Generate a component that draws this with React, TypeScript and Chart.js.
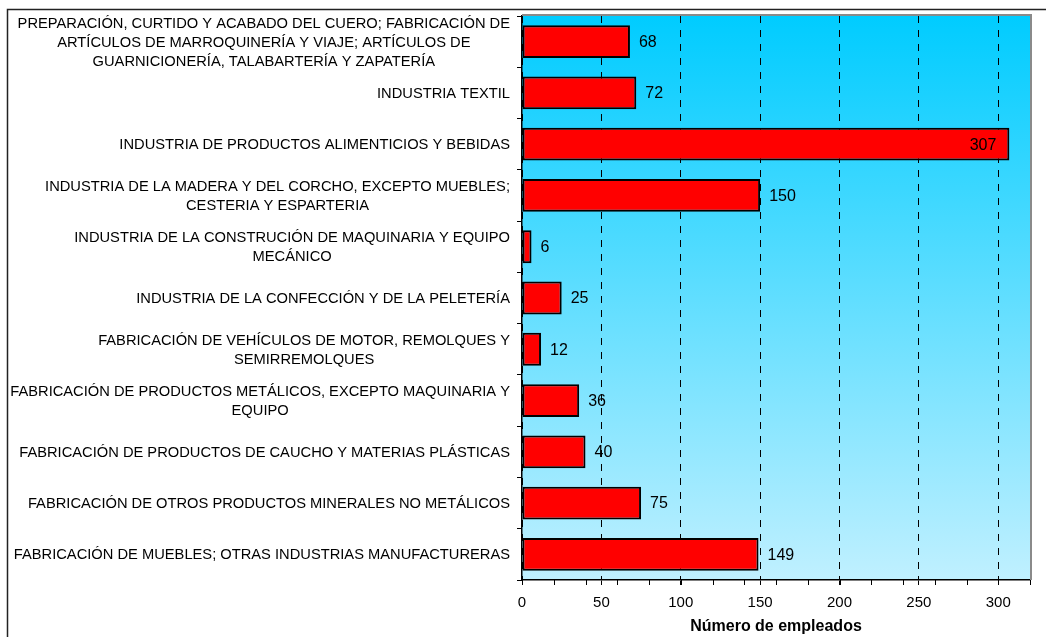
import React, { useEffect, useRef } from "react";
import { Chart, registerables } from "chart.js";

Chart.register(...registerables);

const categories: string[][] = [
  [
    "PREPARACIÓN, CURTIDO Y ACABADO DEL CUERO; FABRICACIÓN DE",
    "ARTÍCULOS DE MARROQUINERÍA Y VIAJE; ARTÍCULOS DE",
    "GUARNICIONERÍA, TALABARTERÍA Y ZAPATERÍA",
  ],
  ["INDUSTRIA TEXTIL"],
  ["INDUSTRIA DE PRODUCTOS ALIMENTICIOS Y BEBIDAS"],
  ["INDUSTRIA DE LA MADERA Y DEL CORCHO, EXCEPTO MUEBLES;", "CESTERIA Y ESPARTERIA"],
  ["INDUSTRIA DE LA CONSTRUCIÓN DE MAQUINARIA Y EQUIPO", "MECÁNICO"],
  ["INDUSTRIA DE LA CONFECCIÓN Y DE LA PELETERÍA"],
  ["FABRICACIÓN DE VEHÍCULOS DE MOTOR, REMOLQUES Y", "SEMIRREMOLQUES"],
  ["FABRICACIÓN DE PRODUCTOS METÁLICOS, EXCEPTO MAQUINARIA Y", "EQUIPO"],
  ["FABRICACIÓN DE PRODUCTOS DE CAUCHO Y MATERIAS PLÁSTICAS"],
  ["FABRICACIÓN DE OTROS PRODUCTOS MINERALES NO METÁLICOS"],
  ["FABRICACIÓN DE MUEBLES; OTRAS INDUSTRIAS MANUFACTURERAS"],
];

const values: number[] = [68, 72, 307, 150, 6, 25, 12, 36, 40, 75, 149];

const xTicks: number[] = [0, 50, 100, 150, 200, 250, 300];
const xMax = 320;
const minorStep = 20;
const axisTitle = "Número de empleados";

const FONT = "'Liberation Sans', Arial, Helvetica, sans-serif";

const decorPlugin = {
  id: "decor",
  beforeDraw(chart: any) {
    const { ctx, chartArea } = chart;
    const { left, right, top, bottom } = chartArea;
    ctx.save();
    // outer chart border (cropped at right/bottom)
    ctx.strokeStyle = "#222";
    ctx.lineWidth = 1.5;
    ctx.strokeRect(7.5, 9.5, 3000, 3000);
    // plot area gradient
    const g = ctx.createLinearGradient(0, top, 0, bottom);
    g.addColorStop(0, "#00CCFF");
    g.addColorStop(1, "#C0F0FF");
    ctx.fillStyle = g;
    ctx.fillRect(left, top, right - left, bottom - top);
    ctx.restore();
  },
  afterDatasetsDraw(chart: any) {
    const { ctx, chartArea } = chart;
    const meta = chart.getDatasetMeta(0);
    ctx.save();
    ctx.font = `16px ${FONT}`;
    ctx.fillStyle = "#000";
    ctx.textBaseline = "middle";
    meta.data.forEach((el: any, i: number) => {
      const { x, y } = el.getProps(["x", "y"], true);
      const txt = String(values[i]);
      const w = ctx.measureText(txt).width;
      if (x + 9 + w > chartArea.right - 2) {
        ctx.textAlign = "right";
        ctx.fillText(txt, x - 13, y + 1);
      } else {
        ctx.textAlign = "left";
        ctx.fillText(txt, x + 9, y + 1);
      }
    });
    ctx.restore();
  },
  afterDraw(chart: any) {
    const { ctx, chartArea, scales } = chart;
    const { left, right, top, bottom } = chartArea;
    const xs = scales.x;
    const ys = scales.y;
    ctx.save();
    // grey plot-area border top/right
    ctx.strokeStyle = "#8a8a8a";
    ctx.lineWidth = 2;
    ctx.beginPath();
    ctx.moveTo(left, top - 1);
    ctx.lineTo(right + 1, top - 1);
    ctx.lineTo(right + 1, bottom);
    ctx.stroke();
    // minor ticks
    ctx.strokeStyle = "#000";
    ctx.lineWidth = 1;
    ctx.beginPath();
    for (let v = 0; v <= xMax; v += minorStep) {
      const px = Math.round(xs.getPixelForValue(v)) + 0.5;
      ctx.moveTo(px, bottom);
      ctx.lineTo(px, bottom + 5);
    }
    ctx.stroke();
    // category labels (multi-line, centred block, right-aligned to axis)
    ctx.font = `14.7px ${FONT}`;
    ctx.fillStyle = "#000";
    ctx.textBaseline = "middle";
    ctx.textAlign = "center";
    const lh = 19;
    const rightEdge = left - 12;
    categories.forEach((lines, i) => {
      const cy = ys.getPixelForValue(i);
      const maxW = Math.max(...lines.map((l) => ctx.measureText(l).width));
      const cx = rightEdge - maxW / 2;
      lines.forEach((l, j) => {
        const ly = cy + (j - (lines.length - 1) / 2) * lh;
        ctx.fillText(l, cx, ly + 1);
      });
    });
    ctx.restore();
  },
};

export default function App() {
  const ref = useRef<HTMLCanvasElement | null>(null);

  useEffect(() => {
    if (!ref.current) return;
    const chart = new Chart(ref.current, {
      type: "bar",
      data: {
        labels: categories.map((c) => c.join(" ")),
        datasets: [
          {
            data: values,
            backgroundColor: "#FF0000",
            borderColor: "#000000",
            borderWidth: 2,
            borderSkipped: false,
            barPercentage: 0.64,
            categoryPercentage: 1,
          },
        ],
      },
      options: {
        indexAxis: "y",
        responsive: false,
        animation: false,
        layout: { padding: { left: 0, right: 16, top: 16, bottom: 0 } },
        plugins: {
          legend: { display: false },
          tooltip: { enabled: false },
          title: { display: false },
        },
        scales: {
          x: {
            type: "linear",
            min: 0,
            max: xMax,
            afterBuildTicks: (s: any) => {
              s.ticks = xTicks.map((v) => ({ value: v }));
            },
            afterFit: (s: any) => {
              s.height = 57;
            },
            grid: {
              color: "#000",
              lineWidth: 1,
              tickLength: 5,
              drawTicks: true,
            },
            border: { display: true, color: "#000", width: 1.5, dash: [7, 7] },
            ticks: {
              color: "#000",
              font: { family: FONT, size: 15 },
              padding: 9,
              maxRotation: 0,
            },
            title: {
              display: true,
              text: axisTitle,
              color: "#000",
              font: { family: FONT, size: 16, weight: "bold" },
              padding: { top: 0, bottom: 1 },
            },
          },
          y: {
            type: "category",
            afterFit: (s: any) => {
              s.width = 522;
            },
            grid: {
              drawOnChartArea: false,
              offset: true,
              tickLength: 5,
              color: "#000",
            },
            border: { display: true, color: "#000", width: 1.5 },
            ticks: { display: false },
          },
        },
      },
      plugins: [decorPlugin],
    } as any);
    return () => chart.destroy();
  }, []);

  return (
    <div style={{ position: "absolute", left: 0, top: 0, width: 1046, height: 637, background: "#fff" }}>
      <canvas ref={ref} width={1046} height={637} style={{ display: "block" }} />
    </div>
  );
}
